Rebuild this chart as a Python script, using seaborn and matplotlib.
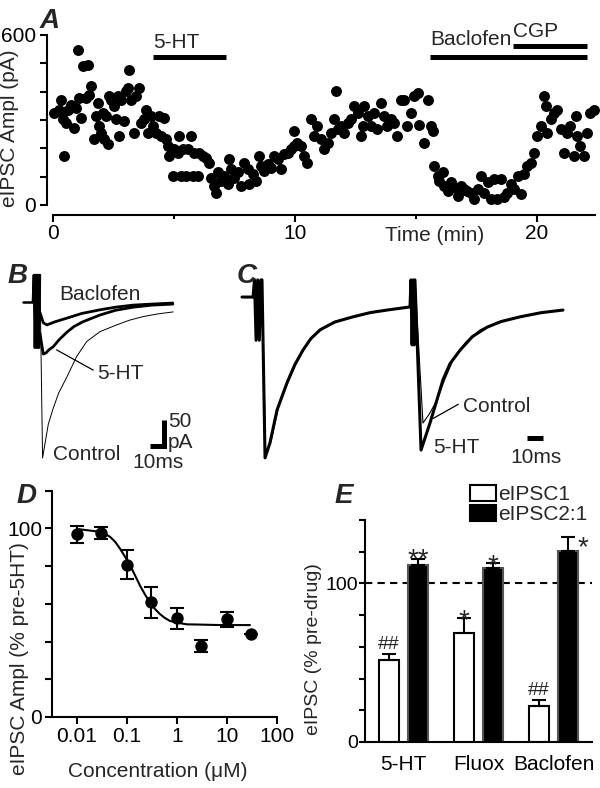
import matplotlib
matplotlib.use("Agg")
import matplotlib.pyplot as plt
import seaborn as sns
import pandas as pd

# ---------------- data ----------------
# A: eIPSC amplitude time course
a_time = [0.05, 0.26, 0.33, 0.4, 0.47, 0.54, 0.6, 0.74, 0.88, 0.95, 1.02, 1.09, 1.16, 1.23, 1.36,
          1.43, 1.5, 1.57, 1.71, 1.78, 1.85, 1.91, 1.98, 2.05, 2.12, 2.19, 2.26, 2.33, 2.4, 2.53,
          2.6, 2.67, 2.74, 2.81, 2.95, 3.02, 3.09, 3.15, 3.22, 3.36, 3.43, 3.57, 3.64, 3.77, 3.84,
          3.91, 4.05, 4.12, 4.26, 4.39, 4.46, 4.6, 4.67, 4.74, 4.81, 4.95, 5.01, 5.15, 5.22, 5.29,
          5.36, 5.5, 5.57, 5.7, 5.77, 5.84, 5.98, 6.05, 6.18, 6.32, 6.46, 6.53, 6.67, 6.74, 6.8,
          6.94, 7.08, 7.22, 7.29, 7.36, 7.49, 7.63, 7.77, 7.91, 8.04, 8.11, 8.25, 8.39, 8.53, 8.6,
          8.73, 8.87, 9.01, 9.15, 9.28, 9.42, 9.56, 9.7, 9.83, 9.97, 9.97, 10.1,
          10.25, 10.38, 10.5, 10.65, 10.8, 10.9, 11.07, 11.2, 11.35, 11.5, 11.6, 11.7, 11.77, 11.9,
          12.04, 12.18, 12.3, 12.45, 12.6, 12.72, 12.8, 12.87, 13.0, 13.14, 13.28, 13.4, 13.55,
          13.7, 13.82, 13.96, 14.1, 14.23, 14.38, 14.5, 14.65, 14.8, 14.93, 15.07, 15.14, 15.34,
          15.48, 15.62, 15.69, 15.76, 15.9, 15.96, 16.1, 16.17, 16.31, 16.45, 16.58, 16.72, 16.86,
          17.0, 17.13, 17.27, 17.4, 17.55, 17.7, 17.82, 17.96, 18.1, 18.23, 18.37, 18.5, 18.65,
          18.78, 18.92, 19.06, 19.2, 19.33, 19.47, 19.6, 19.75, 19.88, 20.02, 20.15, 20.3, 20.36,
          20.43, 20.57, 20.7, 20.84, 20.98, 21.1, 21.25, 21.38, 21.52, 21.6, 21.66, 21.8, 21.93,
          22.07, 22.2, 22.34]
a_ampl = [325, 337, 372, 302, 173, 290, 337, 354, 272, 343, 547, 378, 307, 489, 378,
          495, 389, 419, 232, 313, 360, 278, 255, 325, 232, 313, 214, 384, 372, 349,
          302, 384, 243, 372, 296, 401, 413, 477, 372, 255, 384, 413, 290, 302, 337,
          255, 313, 278, 255, 313, 243, 307, 232, 208, 173, 103, 196, 185, 243, 103,
          196, 103, 196, 243, 103, 185, 103, 185, 173, 167, 150, 97, 68, 44, 115,
          85, 103, 74, 161, 126, 97, 115, 68, 150, 126, 74, 109, 85, 173, 138,
          120, 144, 132, 173, 161, 126, 179, 185, 196, 261, 208, 220,
          208, 173, 150, 302, 243, 278, 232, 196, 220, 255, 302, 401, 267, 278,
          255, 290, 302, 349, 325, 243, 278, 349, 313, 278, 325, 267, 360,
          313, 278, 302, 290, 243, 372, 372, 278, 325, 384, 396, 284, 220,
          372, 278, 261, 138, 103, 85, 115, 68, 50, 80, 62, 33, 68,
          56, 50, 44, 21, 56, 103, 44, 80, 21, 91, 21, 91, 27,
          44, 74, 56, 103, 39, 109, 138, 150, 185, 243, 278, 384, 349,
          255, 302, 325, 337, 267, 185, 255, 278, 173, 313, 243, 208, 173,
          255, 325, 337]
a_drugs = ["5-HT", "Baclofen", "CGP"]
a_drug_on = [4.12, 15.58, 19.02]
a_drug_off = [7.16, 22.05, 22.05]
a_bar_level = [524, 524, 561]
a_label_level = [573, 584, 612]

# B: example traces (ms, pA)
b_base_t = [0, 7.1]
b_base_i = [0, 0]
b_art_t = [7.1, 7.8, 8.5, 9.3, 10.0, 10.7, 11.4, 12.1]
b_art_i = [0, 52, -88, 52, -88, 52, -88, 52]
b_bac_t = [12.1, 14.5, 17.1, 22.9, 31.4, 42, 55, 66, 78.5, 92, 107]
b_bac_i = [-20, -40, -44, -38, -31, -22, -15, -10, -6, -4, -2]
b_5ht_t = [12.1, 14.5, 16.4, 18.5, 21.6, 26, 31.4, 36.5, 42.8, 55, 66, 78.5, 92, 107]
b_5ht_i = [-60, -100, -98, -92, -86, -72, -58, -47, -38, -25, -16, -10, -6, -4]
b_ctl_t = [12.1, 14.0, 16.0, 18.1, 21.5, 25.5, 31.2, 38.3, 45.5, 55, 66.9, 76, 85.9, 96, 107.3]
b_ctl_i = [52, -300, -268, -235, -205, -175, -145, -105, -76, -57, -44, -35, -28, -23, -19]

# C: paired-pulse traces (ms, pA)
c_5ht_t = [0, 6.9, 7.8, 8.8, 9.8, 10.8, 11.8, 12.5, 14.4, 17.5, 21.9, 28.1, 33.0, 38.1, 43.0,
           48.8, 58.0, 69.4, 80.0, 90.6, 105.0, 105.6, 106.3, 107.0, 107.6, 108.1, 111.9,
           117.5, 125.6, 130.0, 136.3, 144.0, 153.1, 162.0, 173.8, 187.0, 200.6]
c_5ht_i = [0, 0, 33, -83, 33, -83, 33, 33, -309, -280, -217, -165, -130, -102, -80,
           -63, -48, -38, -30, -25, -19, 33, -92, 33, -92, 33, -294,
           -242, -159, -128, -102, -76, -58, -47, -38, -30, -25]
c_ctl_t = [12.5, 14.8, 18.3, 22.8, 29.2, 34.0, 39.2, 44.0, 50, 59, 70, 80, 90.6, 105.0, 108.1,
           113.1, 117.0, 121.9, 126.5, 131.9, 140.0, 148.8, 160.0, 173.8, 187.0, 200.6]
c_ctl_i = [33, -305, -275, -212, -160, -127, -98, -77, -60, -46, -37, -30, -25, -19, 33,
           -242, -225, -198, -160, -121, -86, -63, -48, -38, -30, -25]

# D: concentration-response
d_conc = [0.01, 0.03, 0.1, 0.3, 1, 3, 10, 30]
d_ampl = [96.8, 97.4, 80.7, 60.7, 52.3, 37.5, 51.8, 43.8]
d_sem = [4.5, 3.3, 7.8, 8.0, 5.7, 3.3, 4.0, 0.0]
d_fit_conc = [0.01, 0.0275, 0.035, 0.0457, 0.058, 0.072, 0.09, 0.115, 0.145, 0.182, 0.23,
              0.288, 0.36, 0.457, 0.57, 0.72, 1.0, 1.56, 2.5, 6.2, 12, 28.8]
d_fit_ampl = [99.6, 98.2, 97.2, 95.5, 92.8, 89.3, 85.2, 80.4, 75.0, 69.6, 64.8,
              60.7, 57.3, 54.5, 52.5, 50.9, 50.0, 49.1, 49.0, 48.75, 48.7, 48.7]

# E: summary bars
e_drugs = ["5-HT", "Fluox", "Baclofen"]
e_kinds = ["eIPSC1", "eIPSC2:1"]
e_ipsc1 = [51.5, 69.0, 23.0]
e_ipsc1_sem = [4.0, 9.3, 3.4]
e_ipsc21 = [111.6, 109.5, 120.4]
e_ipsc21_sem = [3.6, 3.6, 8.7]
e_marks1 = ["##", "*", "##"]
e_marks2 = ["**", "*", "*"]

# ---------------- style ----------------
sns.set_style("ticks")
plt.rcParams["font.family"] = ["Liberation Sans", "DejaVu Sans"]
plt.rcParams["axes.linewidth"] = 1.5
plt.rcParams["xtick.major.width"] = 1.5
plt.rcParams["ytick.major.width"] = 1.5
plt.rcParams["xtick.minor.width"] = 1.5
plt.rcParams["axes.edgecolor"] = "black"
plt.rcParams["xtick.color"] = "black"
plt.rcParams["ytick.color"] = "black"
FS = 15

W, H = 600, 788
fig = plt.figure(figsize=(W / 100, H / 100), dpi=100)


def px_axes(x0, y0, x1, y1):
    # box given in figure pixels, origin top-left
    return fig.add_axes([x0 / W, 1 - y1 / H, (x1 - x0) / W, (y1 - y0) / H])


def panel_label(s, x, y):
    fig.text(x / W, 1 - y / H, s, fontsize=20, fontweight="bold", style="italic",
             va="baseline", ha="left")


# ---------------- A ----------------
axA = px_axes(53, 35, 595, 205)
sns.scatterplot(x=a_time, y=a_ampl, color="black", s=62, linewidth=0, ax=axA, clip_on=False)
axA.set_xlim(0, 22.4)
axA.set_ylim(0, 600)
sns.despine(ax=axA)
axA.spines["left"].set_position(("outward", 4.5))
axA.spines["bottom"].set_position(("outward", 7.5))
axA.set_yticks(range(0, 601, 100))
axA.set_yticklabels(["0", "", "", "", "", "", "600"])
axA.set_xticks([0, 10, 20])
axA.set_xticks([5, 15], minor=True)
axA.tick_params(axis="both", which="major", length=5, labelsize=FS, pad=1)
axA.tick_params(axis="y", pad=3)
axA.tick_params(axis="x", which="minor", length=3)
axA.set_xlabel("Time (min)", fontsize=FS)
axA.xaxis.set_label_coords((435 - 53) / 542, -0.125)
axA.set_ylabel("eIPSC Ampl (pA)", fontsize=FS)
axA.yaxis.set_label_coords(-0.062, 0.45)
for name, t0, t1, yb, yl in zip(a_drugs, a_drug_on, a_drug_off, a_bar_level, a_label_level):
    axA.plot([t0, t1], [yb, yb], color="black", lw=3.6, solid_capstyle="butt", clip_on=False)
    axA.text(t0, yl, name, fontsize=FS, ha="left", va="center")
panel_label("A", 40, 28)

# ---------------- B ----------------
axB = px_axes(0, 250, 220, 470)
axB.set_xlim(-16.4, 140.7)
axB.set_ylim(-323, 100)
axB.axis("off")
axB.plot(b_base_t, b_base_i, color="black", lw=1.8)
axB.plot(b_art_t, b_art_i, color="black", lw=1.8)
axB.plot(b_ctl_t, b_ctl_i, color="black", lw=0.7)
axB.plot(b_bac_t, b_bac_i, color="black", lw=2.0)
axB.plot(b_5ht_t, b_5ht_i, color="black", lw=2.0)
axB.text(55, 14, "Baclofen", fontsize=FS, ha="center", va="center")
axB.text(52.8, -137, "5-HT", fontsize=FS, ha="left", va="center")
axB.plot([24, 50.2], [-92, -131], color="black", lw=0.9)
axB.text(21.4, -294, "Control", fontsize=FS, ha="left", va="center")
# scale bar: 10 ms x 50 pA
axB.plot([91, 101, 101], [-276, -276, -226], color="black", lw=3.6,
         solid_joinstyle="miter", solid_capstyle="butt")
axB.text(103.5, -229, "50", fontsize=FS, ha="left", va="center")
axB.text(103.5, -271, "pA", fontsize=FS, ha="left", va="center")
axB.text(96.4, -308, "10ms", fontsize=FS, ha="center", va="center")
panel_label("B", 8, 283)

# ---------------- C ----------------
axC = px_axes(220, 250, 600, 470)
axC.set_xlim(-13.75, 223.75)
axC.set_ylim(-332.3, 90.4)
axC.axis("off")
axC.plot(c_5ht_t, c_5ht_i, color="black", lw=2.2)
axC.plot(c_ctl_t, c_ctl_i, color="black", lw=0.8)
axC.text(138, -210, "Control", fontsize=FS, ha="left", va="center")
axC.plot([119.6, 135.2], [-233, -206], color="black", lw=0.9)
axC.text(119.4, -289, "5-HT", fontsize=FS, ha="left", va="center")
axC.plot([178, 188], [-270.5, -270.5], color="black", lw=3.6, solid_capstyle="butt")
axC.text(183.75, -308, "10ms", fontsize=FS, ha="center", va="center")
panel_label("C", 237, 283)

# ---------------- D ----------------
axD = px_axes(52, 490.5, 277, 717)
axD.set_xscale("log")
sns.lineplot(x=d_fit_conc, y=d_fit_ampl, color="black", lw=1.5, ax=axD, sort=False,
             estimator=None)
axD.errorbar(d_conc, d_ampl, yerr=d_sem, fmt="none", ecolor="black", elinewidth=1.5,
             capsize=5, capthick=1.5, zorder=2)
sns.scatterplot(x=d_conc, y=d_ampl, color="black", s=80, linewidth=0, ax=axD, zorder=3)
axD.set_xlim(10 ** -2.5, 100)
axD.set_ylim(0, 120)
sns.despine(ax=axD)
axD.set_xticks([0.01, 0.1, 1, 10, 100])
axD.set_xticklabels(["0.01", "0.1", "1", "10", "100"])
axD.xaxis.set_minor_locator(matplotlib.ticker.NullLocator())
axD.set_yticks(range(0, 121, 20))
axD.set_yticklabels(["0", "", "", "", "", "100", ""])
axD.tick_params(axis="both", length=5, labelsize=FS, pad=2)
axD.set_xlabel("Concentration (\u03bcM)", fontsize=FS)
axD.xaxis.set_label_coords(0.471, -0.2)
axD.set_ylabel("eIPSC Ampl (% pre-5HT)", fontsize=FS)
axD.yaxis.set_label_coords(-0.1, 0.26)
panel_label("D", 17, 503)

# ---------------- E ----------------
e_df = pd.DataFrame({
    "drug": e_drugs * 2,
    "kind": [e_kinds[0]] * 3 + [e_kinds[1]] * 3,
    "value": e_ipsc1 + e_ipsc21,
})
axE = px_axes(365, 520, 592, 742)
sns.barplot(data=e_df, x="drug", y="value", hue="kind", hue_order=e_kinds,
            palette={"eIPSC1": "white", "eIPSC2:1": "black"}, saturation=1,
            width=0.773, gap=0.31, errorbar=None, edgecolor="black", linewidth=1.5,
            ax=axE)
for patch in axE.containers[1]:
    patch.set_edgecolor("#555555")
for cont, sems, marks in zip(axE.containers, [e_ipsc1_sem, e_ipsc21_sem], [e_marks1, e_marks2]):
    for k, (patch, s, m) in enumerate(zip(cont, sems, marks)):
        x = patch.get_x() + patch.get_width() / 2
        y = patch.get_height()
        axE.errorbar([x], [y], yerr=[[0], [s]], fmt="none", ecolor="black",
                     elinewidth=1.5, capsize=5, capthick=1.5, zorder=1)
        if m == "##":
            axE.text(x, y + s + 3, m, fontsize=14, ha="center", va="baseline")
        elif k == 2 and m == "*":
            axE.text(x + 0.2, y + s - 11.5, m, fontsize=20, ha="center", va="baseline")
        elif m == "**":
            axE.text(x, y + s - 5, m, fontsize=20, ha="center", va="baseline")
        else:
            axE.text(x, y + s - 6.5, m, fontsize=20, ha="center", va="baseline")
axE.axhline(100, color="black", lw=1.5, ls=(0, (3.5, 2.5)), zorder=0)
axE.set_xlim(-0.513, 2.513)
axE.set_ylim(0, 140)
sns.despine(ax=axE)
axE.set_yticks(range(0, 141, 20))
axE.set_yticklabels(["0", "", "", "", "", "100", "", ""])
axE.tick_params(axis="y", length=4, labelsize=14, pad=1)
axE.tick_params(axis="x", length=0, labelsize=FS, pad=9)
axE.set_xlabel("")
axE.set_ylabel("eIPSC (% pre-drug)", fontsize=14)
axE.yaxis.set_label_coords(-0.19, 0.42)
handles, labels = axE.get_legend_handles_labels()
axE.legend(handles, labels, frameon=False, loc="upper left",
           bbox_to_anchor=(470 / W, 1 - 485 / H), bbox_transform=fig.transFigure,
           fontsize=FS, handlelength=1.25, handleheight=0.8, handletextpad=0.1,
           labelspacing=0.05, borderaxespad=0, borderpad=0)
panel_label("E", 335, 503)

fig.savefig("out.png", dpi=100)
